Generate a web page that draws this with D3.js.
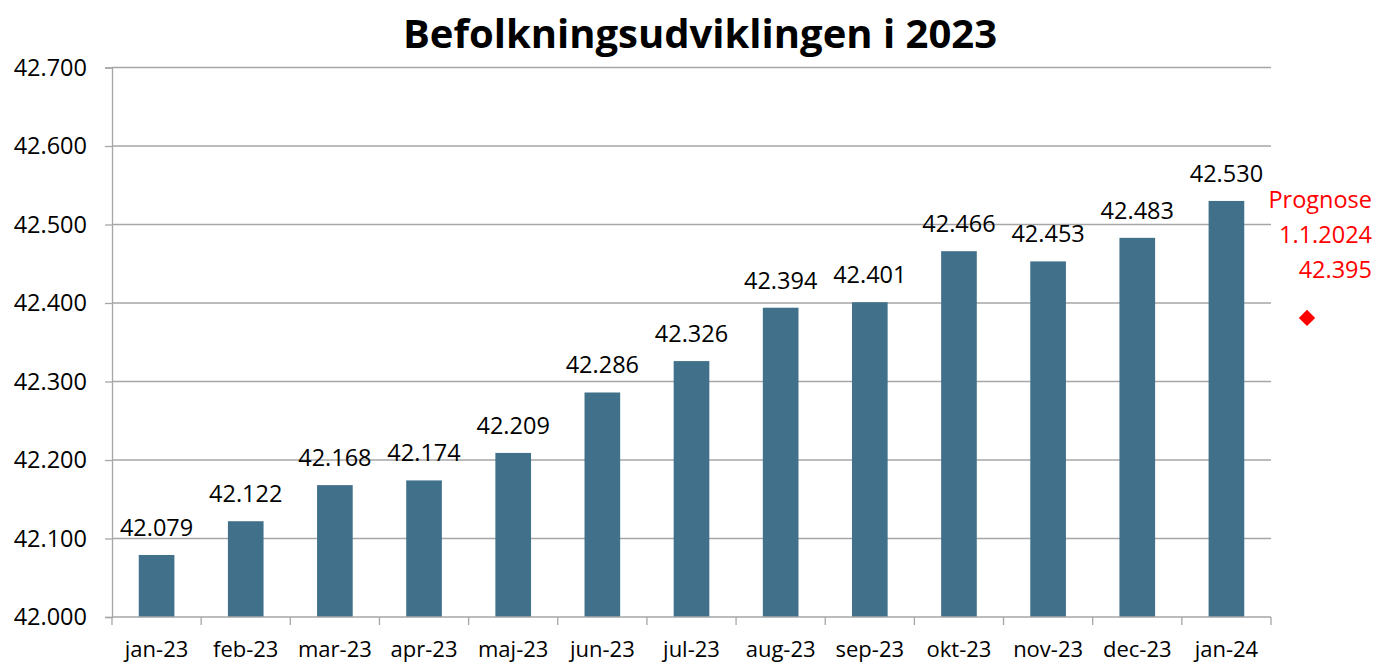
<!DOCTYPE html>
<html>
<head>
<meta charset="utf-8">
<script src="https://cdn.jsdelivr.net/npm/d3@7"></script>
<style>
  body { margin: 0; background: #fff; }
  svg { font-family: "Open Sans", "Noto Sans", sans-serif; }
</style>
</head>
<body>
<div id="chart"></div>
<script>
const months = ["jan-23", "feb-23", "mar-23", "apr-23", "maj-23", "jun-23", "jul-23",
    "aug-23", "sep-23", "okt-23", "nov-23", "dec-23", "jan-24"];
const population = [42079, 42122, 42168, 42174, 42209, 42286, 42326,
    42394, 42401, 42466, 42453, 42483, 42530];
const yTicks = [42000, 42100, 42200, 42300, 42400, 42500, 42600, 42700];
const forecastLines = ["Prognose", "1.1.2024", "42.395"];
const forecastMarker = [42381];

const
    width = 1374,
    height = 663,
    margin = { top: 67.5, right: 103, bottom: 46, left: 112 },
    barColor = "#41718a",
    gridColor = "#a6a6a6";

// 42079 -> "42.079"
const fmtNum = v => {
    let s = String(v);
    return s.slice(0, 2) + "." + s.slice(2);
};

const svg = d3.select("#chart").append("svg")
    .attr("width", width)
    .attr("height", height);

const x = d3.scaleBand()
    .domain(months)
    .range([margin.left, width - margin.right])
    .paddingInner(0.6)
    .paddingOuter(0.3);

const y = d3.scaleLinear()
    .domain([42000, 42700])
    .range([height - margin.bottom, margin.top]);

// gridlines
svg.append("g")
    .selectAll("line")
    .data(yTicks.slice(1))
    .join("line")
    .attr("x1", margin.left)
    .attr("x2", width - margin.right)
    .attr("y1", d => y(d))
    .attr("y2", d => y(d))
    .attr("stroke", gridColor)
    .attr("stroke-width", 1.3);

// y axis
svg.append("g")
    .attr("transform", `translate(${margin.left},0)`)
    .call(d3.axisLeft(y).tickValues(yTicks).tickFormat(fmtNum).tickSize(7).tickPadding(18))
    .call(g => g.selectAll("line, .domain").attr("stroke", gridColor).attr("stroke-width", 1.3))
    .call(g => g.selectAll("text").attr("font-size", 23.5).attr("fill", "#000")
        .attr("font-family", "'Open Sans', sans-serif"));

// bars
svg.append("g")
    .selectAll("rect")
    .data(population)
    .join("rect")
    .attr("x", (d, i) => x(months[i]))
    .attr("width", x.bandwidth())
    .attr("y", d => y(d))
    .attr("height", d => y(42000) - y(d))
    .attr("fill", barColor);

// x axis, ticks sit between categories
const xAxisG = svg.append("g")
    .attr("transform", `translate(0,${height - margin.bottom})`);
xAxisG.append("line")
    .attr("x1", margin.left)
    .attr("x2", width - margin.right)
    .attr("stroke", gridColor)
    .attr("stroke-width", 1.3);
const tickX = i => margin.left + i * (width - margin.right - margin.left) / months.length;
xAxisG.selectAll(".xtick")
    .data(d3.range(months.length + 1))
    .join("line")
    .attr("class", "xtick")
    .attr("x1", tickX)
    .attr("x2", tickX)
    .attr("y1", 0)
    .attr("y2", 8)
    .attr("stroke", gridColor)
    .attr("stroke-width", 1.3);
xAxisG.selectAll(".xlabel")
    .data(months)
    .join("text")
    .attr("class", "xlabel")
    .attr("x", d => x(d) + x.bandwidth() / 2)
    .attr("y", 40)
    .attr("text-anchor", "middle")
    .attr("font-size", 22)
    .text(d => d);

// value labels
svg.append("g")
    .selectAll("text")
    .data(population)
    .join("text")
    .attr("x", (d, i) => x(months[i]) + x.bandwidth() / 2)
    .attr("y", d => y(d) - 19)
    .attr("text-anchor", "middle")
    .attr("font-size", 23.5)
    .attr("fill", "#000")
    .text(d => fmtNum(d));

// forecast
const markerX = width - margin.right + 36;
svg.append("g")
    .selectAll("path")
    .data(forecastMarker)
    .join("path")
    .attr("d", d3.symbol(d3.symbolDiamond2, 170))
    .attr("transform", d => `translate(${markerX},${y(d)})`)
    .attr("fill", "#ff0000");

svg.append("g")
    .selectAll("text")
    .data(forecastLines)
    .join("text")
    .attr("x", width - 2)
    .attr("y", (d, i) => 208 + i * 35)
    .attr("text-anchor", "end")
    .attr("font-size", 23.5)
    .attr("fill", "#ff0000")
    .text(d => d);

// title
svg.append("text")
    .attr("x", 700)
    .attr("y", 48)
    .attr("text-anchor", "middle")
    .attr("font-size", 40)
    .attr("font-weight", "bold")
    .attr("fill", "#000")
    .text("Befolkningsudviklingen i 2023");
</script>
</body>
</html>
